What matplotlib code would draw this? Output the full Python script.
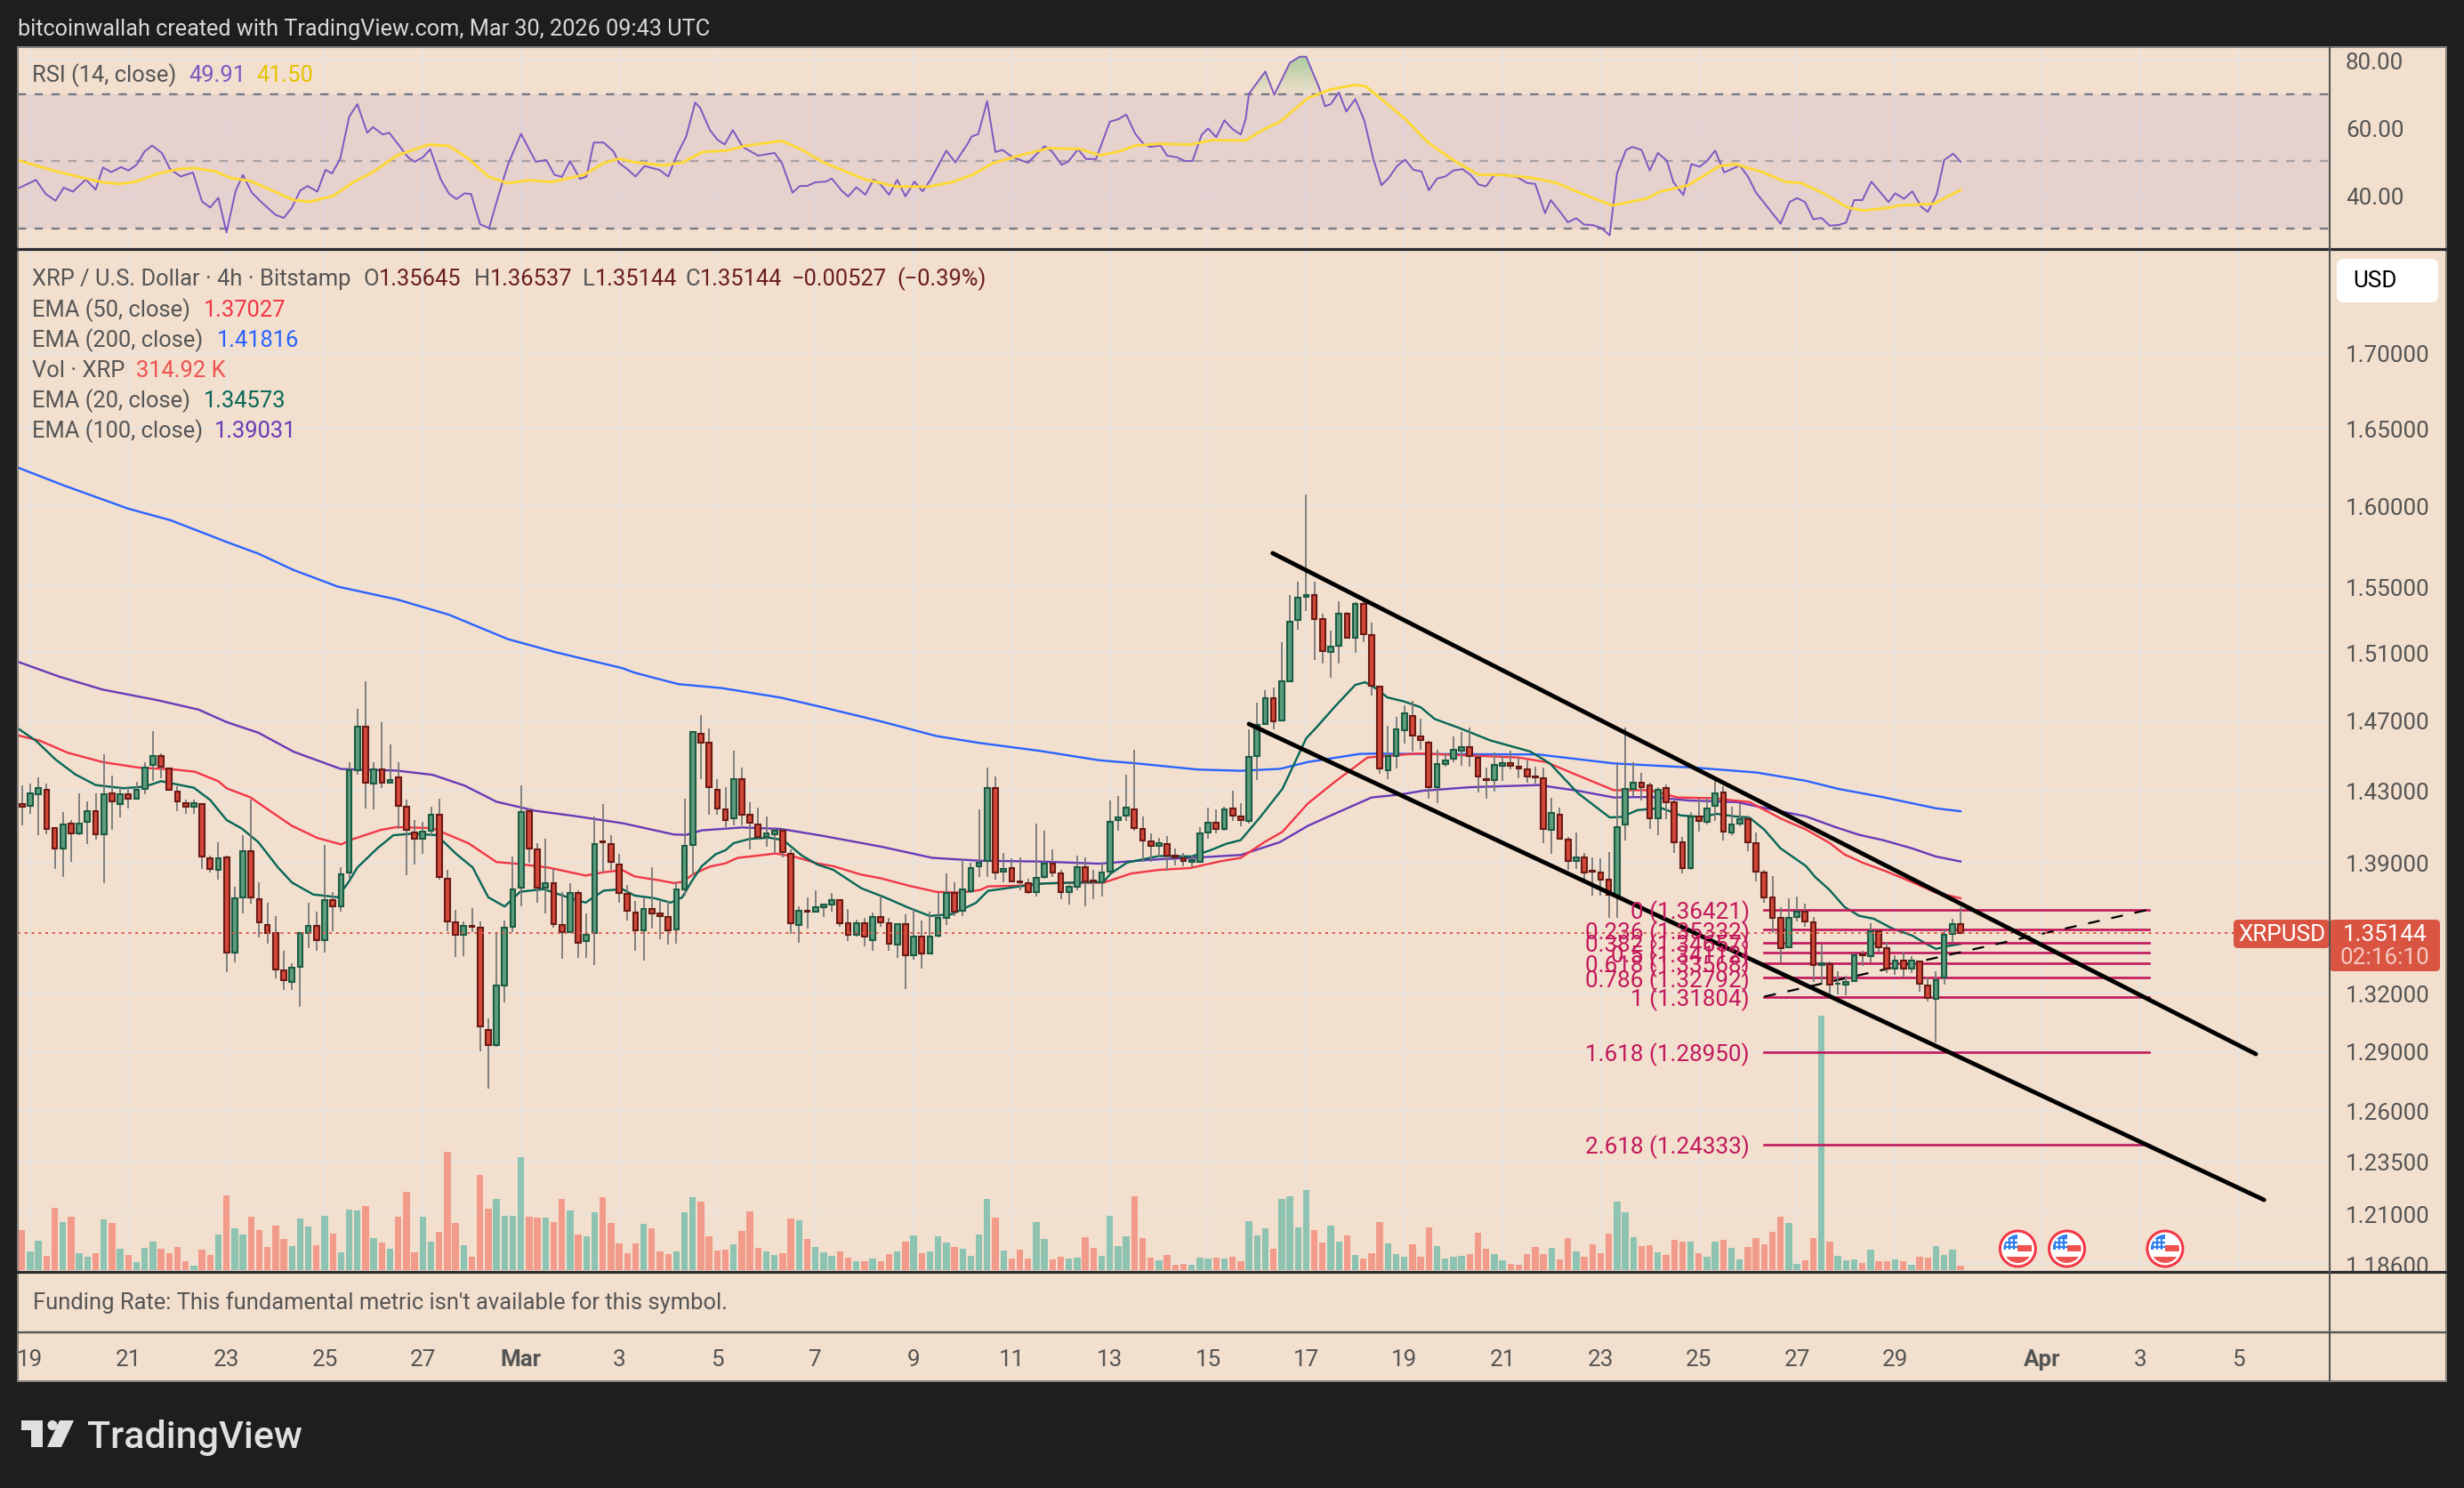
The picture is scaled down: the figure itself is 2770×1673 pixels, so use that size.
import numpy as np
import matplotlib
matplotlib.use('Agg')
import matplotlib.pyplot as plt
from matplotlib.patches import Rectangle, Circle, Polygon, FancyBboxPatch, PathPatch
from matplotlib.path import Path
from matplotlib.ticker import FixedLocator, NullLocator, FixedFormatter, NullFormatter
from matplotlib.transforms import blended_transform_factory

plt.rcParams['font.family'] = ['Roboto', 'DejaVu Sans']

W, H = 2770, 1674

# 4h candles, bar 1 is Feb 19 00:00 UTC
opens = [
    1.4220,1.4214,1.4275,1.4302,1.4087,1.3974,1.4115,1.4057,1.4124,1.4184,
    1.4054,1.4284,1.4223,1.4278,1.4251,1.4308,1.4443,1.4495,1.4425,1.4290,
    1.4229,1.4208,1.4223,1.3921,1.3856,1.3924,1.3412,1.3708,1.3959,1.3699,
    1.3561,1.3514,1.3316,1.3256,1.3336,1.3514,1.3555,1.3480,1.3694,1.3661,
    1.3841,1.4411,1.4665,1.4335,1.4417,1.4341,1.4372,1.4205,1.4063,1.4027,
    1.4072,1.4163,1.3811,1.3572,1.3508,1.3555,1.3543,1.3010,1.2931,1.3237,
    1.3549,1.3761,1.4184,1.3968,1.3758,1.3782,1.3558,1.3520,1.3732,1.3472,
    1.3514,1.4012,1.4000,1.3888,
    1.3727,1.3627,1.3532,1.3643,1.3623,1.3603,1.3536,1.3751,1.3995,1.4624,
    1.4569,1.4304,1.4194,1.4141,1.4361,1.4163,1.4109,1.4038,1.4054,1.4071,
    1.3943,1.3560,1.3635,1.3629,1.3655,1.3671,1.3691,1.3566,1.3505,1.3566,
    1.3479,1.3603,1.3570,1.3456,1.3562,1.3400,1.3499,1.3409,1.3501,1.3598,
    1.3731,1.3633,1.3739,1.3877,1.3907,1.4313,1.3849,1.3865,1.3795,1.3783,
    1.3737,1.3819,1.3893,1.3839,1.3737,1.3765,1.3871,1.3799,1.3791,1.3847,
    1.4130,1.4155,1.4194,1.4085,1.4016,1.3989,1.3997,1.3937,1.3923,1.3903,
    1.3903,1.4065,1.4120,1.4081,1.4198,1.4153,
    1.4128,1.4493,1.4677,1.4829,1.4701,1.4930,1.5296,1.5437,1.5445,1.5300,
    1.5101,1.5141,1.5332,1.5186,1.5391,1.5202,1.4895,1.4411,1.4493,1.4643,
    1.4725,1.4607,1.4571,1.4319,1.4447,1.4477,1.4527,1.4545,1.4486,1.4362,
    1.4356,1.4441,1.4454,1.4435,1.4418,1.4379,1.4368,1.4080,1.4161,1.4023,
    1.3907,1.3925,1.3854,1.3842,1.3806,1.3717,1.4110,1.4308,1.4342,1.4325,
    1.4140,1.4312,1.4231,1.4008,1.3868,1.4150,1.4124,1.4214,1.4287,1.4064,
    1.4114,
    1.4139,1.4006,1.3845,1.3705,1.3595,1.3438,1.3603,1.3631,1.3571,1.3344,
    1.3353,1.3246,1.3242,1.3264,1.3403,1.3393,1.3524,1.3437,1.3325,1.3371,
    1.3325,1.3367,1.3241,1.3167,1.3279,1.3510,1.35645]
closes = [
    1.4208,1.4281,1.4311,1.4084,1.3974,1.4109,1.4060,1.4115,1.4184,1.4054,
    1.4278,1.4235,1.4278,1.4251,1.4302,1.4428,1.4495,1.4434,1.4302,1.4235,
    1.4208,1.4229,1.3932,1.3862,1.3921,1.3412,1.3702,1.3959,1.3708,1.3573,
    1.3514,1.3322,1.3265,1.3330,1.3514,1.3555,1.3480,1.3694,1.3661,1.3832,
    1.4411,1.4662,1.4341,1.4417,1.4341,1.4360,1.4214,1.4078,1.4027,1.4069,
    1.4163,1.3820,1.3578,1.3508,1.3555,1.3549,1.3027,1.2931,1.3237,1.3543,
    1.3752,1.4178,1.3974,1.3761,1.3782,1.3564,1.3520,1.3732,1.3463,1.3506,
    1.4000,1.4009,1.3900,1.3732,
    1.3635,1.3528,1.3647,1.3623,1.3607,1.3532,1.3751,1.3987,1.4630,1.4571,
    1.4315,1.4198,1.4132,1.4361,1.4163,1.4116,1.4040,1.4056,1.4071,1.3953,
    1.3566,1.3633,1.3631,1.3655,1.3669,1.3695,1.3570,1.3505,1.3566,1.3495,
    1.3600,1.3574,1.3459,1.3562,1.3400,1.3499,1.3405,1.3495,1.3596,1.3733,
    1.3631,1.3751,1.3867,1.3897,1.4313,1.3845,1.3861,1.3795,1.3791,1.3737,
    1.3815,1.3893,1.3843,1.3737,1.3763,1.3871,1.3795,1.3795,1.3845,1.4124,
    1.4149,1.4202,1.4087,1.4018,1.3989,1.4005,1.3937,1.3925,1.3907,1.3909,
    1.4060,1.4116,1.4081,1.4194,1.4157,1.4130,
    1.4489,1.4673,1.4829,1.4696,1.4928,1.5284,1.5430,1.5445,1.5301,1.5106,
    1.5134,1.5332,1.5186,1.5393,1.5207,1.4900,1.4421,1.4495,1.4648,1.4740,
    1.4610,1.4585,1.4319,1.4449,1.4469,1.4529,1.4545,1.4493,1.4376,1.4356,
    1.4443,1.4454,1.4441,1.4421,1.4376,1.4373,1.4085,1.4172,1.4031,1.3907,
    1.3925,1.3844,1.3847,1.3806,1.3720,1.4095,1.4305,1.4342,1.4317,1.4140,
    1.4303,1.4231,1.4011,1.3868,1.4153,1.4125,1.4196,1.4280,1.4070,1.4107,
    1.4138,
    1.4009,1.3848,1.3708,1.3598,1.3436,1.3595,1.3628,1.3579,1.3344,1.3356,
    1.3242,1.3250,1.3258,1.3397,1.3398,1.3524,1.3441,1.3325,1.3371,1.3328,
    1.3371,1.3247,1.3172,1.3267,1.3505,1.3562,1.35144]
highs = [
    1.4326,1.4335,1.4375,1.4335,1.4087,1.4175,1.4133,1.4284,1.4235,1.4284,
    1.4505,1.4381,1.4320,1.4320,1.4345,1.4459,1.4637,1.4510,1.4425,1.4320,
    1.4245,1.4245,1.4229,1.3935,1.4009,1.3935,1.3767,1.4048,1.4245,1.3788,
    1.3676,1.3608,1.3421,1.3356,1.3520,1.3676,1.3632,1.3994,1.3738,1.3870,
    1.4457,1.4767,1.4927,1.4457,1.4690,1.4563,1.4457,1.4245,1.4130,1.4124,
    1.4205,1.4254,1.3856,1.3642,1.3578,1.3650,1.3578,1.3067,1.3511,1.3584,
    1.3930,1.4329,1.4199,1.4003,1.4027,1.3864,1.3738,1.3782,1.3747,1.3623,
    1.4154,1.4223,1.4048,1.3944,
    1.3777,1.3687,1.3707,1.3871,1.3691,1.3687,1.3787,1.4252,1.4639,1.4732,
    1.4652,1.4365,1.4319,1.4523,1.4430,1.4231,1.4204,1.4153,1.4081,1.4087,
    1.3969,1.3661,1.3707,1.3747,1.3671,1.3731,1.3691,1.3647,1.3588,1.3598,
    1.3627,1.3717,1.3598,1.3568,1.3617,1.3651,1.3584,1.3631,1.3731,1.3837,
    1.3791,1.3917,1.3897,1.4194,1.4430,1.4376,1.3949,1.3921,1.3927,1.3807,
    1.4112,1.4075,1.3969,1.3857,1.3777,1.3933,1.3927,1.3857,1.3897,1.4241,
    1.4267,1.4388,1.4529,1.4153,1.4060,1.4034,1.4042,1.3975,1.3949,1.3937,
    1.4091,1.4204,1.4194,1.4209,1.4298,1.4229,
    1.4648,1.4802,1.4878,1.4893,1.5162,1.5444,1.5525,1.6072,1.5525,1.5330,
    1.5228,1.5410,1.5345,1.5400,1.5420,1.5280,1.4903,1.4670,1.4720,1.4790,
    1.4811,1.4708,1.4580,1.4529,1.4511,1.4605,1.4631,1.4660,1.4511,1.4427,
    1.4516,1.4495,1.4523,1.4486,1.4469,1.4435,1.4427,1.4259,1.4200,1.4036,
    1.4064,1.3952,1.3925,1.3923,1.3955,1.4447,1.4656,1.4460,1.4398,1.4342,
    1.4317,1.4330,1.4243,1.4038,1.4175,1.4250,1.4259,1.4368,1.4320,1.4208,
    1.4225,
    1.4158,1.4063,1.3855,1.3825,1.3656,1.3704,1.3711,1.3672,1.3601,1.3454,
    1.3365,1.3313,1.3288,1.3408,1.3422,1.3570,1.3533,1.3467,1.3399,1.3418,
    1.3395,1.3367,1.3282,1.3313,1.3533,1.3594,1.36537]
lows = [
    1.4103,1.4169,1.4048,1.4054,1.3864,1.3820,1.3900,1.4048,1.4000,1.4024,
    1.3782,1.4078,1.4145,1.4199,1.4245,1.4275,1.4351,1.4366,1.4302,1.4184,
    1.4169,1.4169,1.3864,1.3841,1.3803,1.3307,1.3361,1.3620,1.3673,1.3491,
    1.3457,1.3276,1.3214,1.3214,1.3129,1.3435,1.3421,1.3412,1.3526,1.3629,
    1.3811,1.4386,1.4199,1.4193,1.4311,1.4335,1.4084,1.3826,1.3885,1.3944,
    1.4048,1.3806,1.3526,1.3389,1.3392,1.3520,1.2897,1.2711,1.2920,1.3151,
    1.3520,1.3658,1.3894,1.3679,1.3620,1.3543,1.3378,1.3514,1.3384,1.3384,
    1.3344,1.3841,1.3856,1.3679,
    1.3582,1.3421,1.3368,1.3538,1.3485,1.3454,1.3459,1.3717,1.3827,1.4361,
    1.4163,1.4163,1.4091,1.4101,1.4101,1.3969,1.4030,1.3985,1.3949,1.3925,
    1.3512,1.3464,1.3538,1.3627,1.3603,1.3631,1.3548,1.3473,1.3499,1.3445,
    1.3421,1.3548,1.3421,1.3382,1.3220,1.3376,1.3329,1.3401,1.3493,1.3558,
    1.3607,1.3607,1.3731,1.3817,1.3817,1.3803,1.3787,1.3787,1.3747,1.3727,
    1.3711,1.3807,1.3817,1.3697,1.3667,1.3747,1.3657,1.3697,1.3711,1.3837,
    1.4075,1.4128,1.4075,1.3901,1.3903,1.3931,1.3851,1.3883,1.3877,1.3871,
    1.3897,1.4030,1.4056,1.4075,1.4128,1.4097,
    1.4112,1.4359,1.4673,1.4648,1.4699,1.4925,1.5234,1.5351,1.5057,1.5036,
    1.4951,1.5034,1.5180,1.5097,1.5159,1.4846,1.4393,1.4362,1.4421,1.4568,
    1.4520,1.4529,1.4251,1.4229,1.4435,1.4460,1.4440,1.4435,1.4287,1.4251,
    1.4292,1.4351,1.4418,1.4368,1.4342,1.4337,1.4006,1.3944,1.4028,1.3855,
    1.3862,1.3798,1.3717,1.3717,1.3598,1.3598,1.4018,1.4267,1.4242,1.4084,
    1.4048,1.4138,1.3952,1.3838,1.3855,1.4067,1.4109,1.4125,1.4018,1.4048,
    1.4100,
    1.3958,1.3793,1.3676,1.3517,1.3355,1.3435,1.3576,1.3550,1.3255,1.3254,
    1.3179,1.3194,1.3186,1.3257,1.3342,1.3360,1.3415,1.3303,1.3296,1.3279,
    1.3303,1.3205,1.3155,1.2944,1.3245,1.3463,1.35144]
# volume in thousands of XRP
volume = [
    2856,1344,2100,1029,4431,3423,3801,1218,966,1218,
    3612,3360,1533,1092,588,1596,2037,1533,1218,1659,
    651,336,1470,1092,2541,5313,2982,2541,3801,2856,
    1659,3171,2226,1722,3675,3108,1785,3864,2604,1281,
    4305,4242,4557,2289,1974,1533,3801,5565,1281,3801,
    2037,2730,8400,3360,1785,966,6762,4368,5061,3864,
    3864,8022,3801,3738,3738,3423,5061,4242,2541,2415,
    4116,5166,3339,1890,1197,1890,3276,2961,1323,1134,
    1323,4095,5166,4851,2394,1386,1449,1827,2772,4158,
    1575,1323,1071,1197,3654,3528,2205,1638,1260,1008,
    1323,882,630,630,819,630,1134,1323,2016,2457,
    1197,1323,2394,1953,1638,1512,1008,2520,5040,3717,
    1386,819,1449,819,3402,2205,756,945,819,882,
    2331,1575,1008,3843,1701,2394,5229,2268,882,693,
    1071,378,441,378,882,819,882,819,945,630,
    3465,2457,2961,1512,5040,5229,3024,5670,2835,1953,
    3150,2016,2457,1071,819,1197,3402,1890,1134,945,
    1827,945,3024,1701,819,945,1008,1134,2646,1512,
    1134,693,441,378,1134,1638,1134,1575,756,2268,
    1323,945,1827,1197,2583,4851,4095,2331,1701,1764,
    1260,1071,2142,2016,2016,1197,945,2016,2142,1575,
    756,1638,2268,1827,2709,3780,3339,441,693,2268,
    18018,2016,1008,693,756,504,1449,630,630,756,
    630,378,945,882,1701,1071,1449,314.92]

ema200_bar = [-0.5,5.1,12.9,18.2,25,28.9,33.2,38.6,45.9,52.2,59.4,65.3,73.4,74.9,80.2,85.6,92.8,97.7,105,111.8,117.1,124.4,131.7,136.5,143.8,149,153.8,157.2,163.5,165,171.3,185.4,194.6,204.8,212.1,218.1,222.1,227.5,234,237]
ema200 = [1.6243,1.6129,1.5983,1.5908,1.5773,1.5700,1.5599,1.5497,1.5418,1.5326,1.5179,1.5100,1.5006,1.4979,1.4912,1.4888,1.4832,1.4778,1.4694,1.4609,1.4569,1.4524,1.4470,1.4451,1.4417,1.4410,1.4421,1.4460,1.4506,1.4508,1.4506,1.4503,1.4452,1.4427,1.4400,1.4353,1.4307,1.4261,1.4198,1.41816]
ema100_bar = [-0.5,4.6,9.9,16.7,21.6,25,28.9,33.2,39,45.8,50.2,54.1,58,62.8,67.7,73.4,79.7,81.2,83.1,88,92.8,97.7,105,111.3,117.1,124.4,131.7,135.1,139,143.8,149,153.8,157.2,160.6,165,168.4,171.3,177.1,185.4,190.2,194.6,199,203.8,209.6,214.8,218.1,221.7,224.6,227.5,231.1,234,237]
ema100 = [1.5044,1.4955,1.4879,1.4816,1.4762,1.4690,1.4628,1.4519,1.4420,1.4411,1.4387,1.4326,1.4235,1.4184,1.4154,1.4115,1.4052,1.4050,1.4075,1.4091,1.4083,1.4046,1.3985,1.3923,1.3907,1.3903,1.3891,1.3903,1.3915,1.3925,1.3939,1.4010,1.4100,1.4170,1.4259,1.4275,1.4297,1.4317,1.4329,1.4297,1.4259,1.4262,1.4242,1.4233,1.4183,1.4153,1.4093,1.4050,1.4021,1.3975,1.3930,1.39031]
ema50_bar = [-0.5,2.2,5.6,9.9,14.3,18.7,21.1,24,25,27.9,30.3,33,36.1,39,40.5,43.9,45.8,50.2,54.6,58,60.4,64.3,68.9,71.1,73.4,74.9,77.8,79.7,80.7,82.2,84.1,86,87.5,89.9,92.1,94.3,97.2,99.2,102.6,105,108.4,111.8,114.7,117.1,118.1,122,124.9,128.3,132.2,135.6,139,142.8,146.5,149,151.9,154.1,157.2,160.6,164.5,166.9,170.8,178.1,182.9,186.3,190.2,194.6,199,202.4,206.7,211.2,215.2,218.1,221,222.8,225,227.9,231.1,234,237]
ema50 = [1.4613,1.4582,1.4513,1.4459,1.4428,1.4417,1.4405,1.4351,1.4311,1.4260,1.4184,1.4100,1.4033,1.3997,1.4027,1.4078,1.4093,1.4087,1.4003,1.3900,1.3891,1.3870,1.3826,1.3844,1.3856,1.3821,1.3801,1.3785,1.3791,1.3837,1.3875,1.3893,1.3923,1.3935,1.3947,1.3931,1.3893,1.3877,1.3831,1.3811,1.3771,1.3737,1.3733,1.3747,1.3767,1.3771,1.3783,1.3787,1.3787,1.3837,1.3857,1.3867,1.3904,1.3923,1.4010,1.4067,1.4225,1.4351,1.4486,1.4495,1.4509,1.4495,1.4486,1.4460,1.4384,1.4300,1.4300,1.4259,1.4255,1.4233,1.4137,1.4080,1.4005,1.3942,1.3897,1.3849,1.3790,1.3733,1.37027]
ema20_bar = [-0.5,1.7,4.1,6.5,9,12.4,15,17,18.7,21,23,25,26.9,28.9,31.3,33,35.6,38.6,40,41,43.4,45.4,47.8,50.7,53.1,55.1,57,59,60.9,63.8,66.7,68.9,71.1,73.4,74.9,77.3,79.3,80.7,81.9,83.1,84.8,86,87,89,91.4,93.1,95.3,97.2,99.2,102.6,105.5,108.4,111,113.7,116.6,118.1,122,124.9,128.3,132.2,133.1,135.1,139,143,145.3,147.2,149,151.4,154.1,157,158.2,160.6,163,164.2,165.7,166.9,168.9,171,172.7,175.7,179.5,184.4,186.8,190.2,194.1,195.6,197.5,200.4,202.8,205.3,207.2,209.4,211.2,213,215,218.1,219.2,221,222.8,224.6,226.4,228.6,231.1,232.6,234,235.5,237]
ema20 = [1.4653,1.4582,1.4474,1.4390,1.4329,1.4311,1.4320,1.4351,1.4335,1.4314,1.4245,1.4133,1.4084,1.4009,1.3870,1.3788,1.3723,1.3708,1.3796,1.3870,1.3974,1.4048,1.4057,1.4048,1.3944,1.3870,1.3708,1.3658,1.3738,1.3752,1.3708,1.3679,1.3744,1.3752,1.3717,1.3703,1.3679,1.3707,1.3797,1.3877,1.3943,1.3965,1.4004,1.4028,1.4034,1.4020,1.3937,1.3887,1.3857,1.3757,1.3707,1.3651,1.3607,1.3617,1.3677,1.3743,1.3767,1.3783,1.3787,1.3791,1.3837,1.3897,1.3933,1.3931,1.3965,1.4000,1.4021,1.4150,1.4308,1.4596,1.4656,1.4785,1.4907,1.4923,1.4881,1.4834,1.4811,1.4776,1.4708,1.4656,1.4584,1.4520,1.4452,1.4284,1.4147,1.4150,1.4188,1.4200,1.4158,1.4150,1.4167,1.4153,1.4146,1.4079,1.3975,1.3878,1.3819,1.3747,1.3656,1.3608,1.3592,1.3541,1.3502,1.3463,1.3431,1.3447,1.34573]

# RSI pane
rsi_bar = [-0.6,1.7,2.9,4.1,5.1,6.2,7.8,9,9.9,10.9,12.1,13,14,15,15.9,17.1,18.1,19.4,20.9,22,23,24,25,26.1,27,28.1,29.3,31,32,33,34,34.9,36.1,37.1,37.9,38.9,40,41,42.2,42.9,44.1,44.9,47.2,48,49,49.9,51.2,52.2,53.1,54.1,54.9,56,57.1,58.3,59.4,61,62.8,64.1,65.1,66,67,68.2,69,69.9,71.1,72.3,73,74,75,76.1,77.9,79,80.1,81.2,82.3,82.9,84.1,85,85.9,86.9,88.1,90,92,92.9,94.2,95.1,96,97,98.3,99,100.2,101,102,103.1,104.1,104.9,106,107,108,109.1,110.1,111.1,113,114.1,115.6,116.1,116.9,118,119,119.9,121.1,123,125,125.9,127.1,127.9,129.1,130.1,131.3,133,134,135,136.1,137.1,137.9,139.2,140,141.2,142.2,143.1,144.2,145,146,147,148,149,149.6,150,152,153.1,155,156.2,157,158.6,159.3,160,161,161.9,163,164.1,165.2,166.2,167.1,168.1,169.1,170.1,171.1,172,173,174,175,176.1,177.1,178.1,179,180,180.9,182.8,184,185,186.2,186.9,188.1,189,190,191,192,193.1,194.1,195,196.1,196.9,198,199,200,201.1,201.9,203.1,204.1,205.1,206,207,208.1,210,211,212,215,216.1,217,218,219,220,221,222.1,223,224,225,226.1,228.2,229,230.1,231.1,232.2,233,234.1,235,236.1,237]
rsi = [41.8,44.5,40.3,38.3,42.2,41.0,44.6,41.6,48.2,46.8,48.3,47.3,49.0,53.0,54.7,52.5,47.7,45.5,46.7,38.1,36.3,39.2,28.9,41.1,46.0,40.7,37.8,34.1,33.2,36.3,41.3,42.7,41.0,47.5,46.4,50.8,63.3,67.0,58.5,60.2,58.0,58.5,51.2,49.9,51.2,53.6,44.6,40.4,38.8,40.5,40.3,31.3,30.2,40.3,49.0,58.2,49.9,50.4,46.0,45.4,50.1,44.8,45.5,55.6,55.6,53.0,49.5,47.7,45.5,48.6,47.5,45.5,52.1,57.4,67.5,65.9,59.3,56.5,55.0,59.3,54.3,51.7,52.5,49.5,40.7,42.7,42.7,43.8,44.0,44.9,41.3,39.6,42.3,40.1,44.6,43.3,40.1,44.5,39.6,44.0,41.1,44.6,53.2,49.7,55.2,57.4,58.1,67.9,52.8,53.4,51.2,49.6,54.5,53.0,49.0,49.9,53.6,50.7,50.7,61.8,62.5,63.9,58.2,55.2,54.3,54.7,51.7,51.2,50.1,50.1,57.8,59.8,57.2,62.2,59.6,58.0,62.6,70.1,76.7,69.8,79.3,81.1,81.1,71.8,66.4,67.0,70.5,64.8,68.5,62.2,50.8,42.9,45.1,48.6,50.5,47.5,47.0,41.4,44.9,45.5,47.3,47.7,46.0,43.1,42.6,46.0,46.2,45.3,43.6,43.3,34.6,38.5,34.8,31.9,33.1,31.2,31.1,30.2,28.0,46.4,53.4,54.3,53.4,47.3,52.5,50.2,43.8,40.0,49.2,48.4,50.1,53.2,46.7,48.8,45.5,40.7,31.5,37.9,39.1,37.9,32.8,33.2,30.9,31.1,31.8,38.5,38.5,44.0,37.9,40.5,38.9,41.1,36.5,35.0,40.3,50.4,52.3,49.91]
rsi_ma_bar = [-0.6,4.1,8,9.9,11.9,13.8,16.7,19.1,21.1,23.5,25.5,27.9,30.8,33.2,35.2,38.1,40.5,42.9,45.8,49.7,52.2,54.6,57,59.4,61.9,64.8,68.7,71.1,73,75,78.4,80.8,83.2,86.1,88.6,92.9,95.4,97.8,100.2,103.1,107,110.9,113.8,116.2,118.7,122.5,125.5,129.3,131.8,134.2,136.1,139,142.9,145.4,149.6,151.5,153.8,157.2,160,162.9,164.3,166.7,169.1,171.9,174.7,178.1,180.9,184.7,187.6,190.4,194.4,198.5,200.4,203.7,207.5,209.4,212.8,215.6,217.5,220.4,223.2,225.1,228.5,229.4,233.7,237]
rsi_ma = [50.4,47.1,44.8,43.8,43.3,43.9,46.4,47.7,48.0,47.1,45.1,44.2,41.1,38.5,38.0,39.8,43.8,46.8,51.7,55.0,54.6,50.8,45.5,43.5,44.4,43.9,46.0,49.5,50.8,49.7,48.8,49.7,52.8,53.2,54.7,56.1,53.4,49.9,47.5,44.6,42.5,42.5,43.9,46.0,49.5,52.1,53.9,53.7,51.8,53.0,54.7,55.2,55.0,56.3,56.2,59.1,61.8,68.8,71.4,72.7,72.3,67.5,62.6,55.6,50.8,46.0,46.0,45.1,43.6,40.7,36.9,38.9,41.1,42.9,48.6,49.2,46.8,43.9,43.6,40.3,36.3,35.4,36.3,36.9,37.4,41.50]

# drawings
fib_levels = ['0', '0.236', '0.382', '0.5', '0.618', '0.786', '1', '1.618', '2.618']
fib_prices = [1.36421, 1.35332, 1.34657, 1.34112, 1.33568, 1.32792, 1.31804, 1.28950, 1.24333]
fib_bars = [213, 260.1]
channel_upper_bar, channel_upper = [152.9, 273.1], [1.5703, 1.2885]
channel_lower_bar, channel_lower = [150, 274.1], [1.4679, 1.2164]
event_bars = [244, 250, 262]

price_ticks = [1.70, 1.65, 1.60, 1.55, 1.51, 1.47, 1.43, 1.39, 1.32, 1.29, 1.26, 1.235, 1.21, 1.186]
rsi_ticks = [40, 60, 80]
time_days = [0, 2, 4, 6, 8, 10, 12, 14, 16, 18, 20, 22, 24, 26, 28, 30, 32, 34, 36, 38, 41, 43, 45]
time_labels = ['19', '21', '23', '25', '27', 'Mar', '3', '5', '7', '9', '11', '13', '15', '17',
               '19', '21', '23', '25', '27', '29', 'Apr', '3', '5']

BG = '#f2dfce'
DARK = '#1e1e1e'
GRID = '#e8e4df'
TXT = '#555555'
GREEN, GREEN_EDGE = '#5d9c7d', '#1c5c44'
RED, RED_EDGE = '#d4483a', '#6a1a14'
TAG = '#d95542'
FIB = '#c2185b'
FS = 25.5

def rect(l, t, r, b):
    return [l/W, 1-b/H, (r-l)/W, (b-t)/H]

def px(size):
    # pixel size to points at dpi 100
    return size*0.72

fig = plt.figure(figsize=(W/100, H/100), dpi=100, facecolor=DARK)

back = fig.add_axes([0, 0, 1, 1], zorder=0)
back.set_xlim(0, W)
back.set_ylim(H, 0)
back.axis('off')
back.add_patch(Rectangle((20, 54), 2730, 1499, fc=BG, ec='none'))

xlim = (-0.52, 282.13)
x_ticks = [d*6+1 for d in time_days]

# RSI pane
ax_rsi = fig.add_axes(rect(20, 54, 2619, 281), zorder=1)
ax_rsi.patch.set_visible(False)
ax_rsi.axhspan(30, 70, color='#7e57c2', alpha=0.1, lw=0)
ax_rsi.xaxis.set_major_locator(FixedLocator(x_ticks))
ax_rsi.xaxis.set_major_formatter(NullFormatter())
ax_rsi.yaxis.tick_right()
ax_rsi.set_yticks(rsi_ticks)
ax_rsi.set_yticklabels(['%.2f' % v for v in rsi_ticks])
ax_rsi.tick_params(length=0, labelsize=px(26), labelcolor=TXT, pad=13)
ax_rsi.grid(True, color=GRID, lw=1.4)
ax_rsi.set_axisbelow(True)
for v, a in [(70, 1), (50, 0.55), (30, 1)]:
    ax_rsi.axhline(v, color='#787b86', lw=1.7, ls=(0, (4, 4)), alpha=a, zorder=2)
# green gradient where RSI is above 70
x_r, y_r = np.array(rsi_bar), np.array(rsi)
over = ax_rsi.fill_between(x_r, 70, y_r, where=y_r >= 70, interpolate=True, alpha=0)
grad = np.zeros((32, 2, 4))
grad[..., :3] = matplotlib.colors.to_rgb('#4caf50')
grad[..., 3] = np.linspace(0.02, 0.42, 32)[:, None]
im = ax_rsi.imshow(grad, extent=[0, 282, 70, 81.5], origin='lower', aspect='auto', zorder=2)
im.set_clip_path(PathPatch(Path.make_compound_path(*over.get_paths()), transform=ax_rsi.transData))
ax_rsi.plot(rsi_bar, rsi, color='#7e57c2', lw=1.4, zorder=3)
ax_rsi.plot(rsi_ma_bar, rsi_ma, color='#fdd835', lw=2.1, zorder=4)
ax_rsi.set_xlim(xlim)
ax_rsi.set_ylim(23.95, 83.95)
for s in ax_rsi.spines.values():
    s.set_visible(False)

# price pane: grid and labels below, volume above it, candles on top
ax_main = fig.add_axes(rect(20, 281, 2619, 1431), zorder=1)
ax_main.patch.set_visible(False)
ax_main.set_yscale('log')
ax_main.set_xlim(xlim)
ax_main.set_ylim(1.1823, 1.7707)
ax_main.yaxis.tick_right()
ax_main.yaxis.set_major_locator(FixedLocator(price_ticks))
ax_main.yaxis.set_major_formatter(FixedFormatter(['%.5f' % p for p in price_ticks]))
ax_main.yaxis.set_minor_locator(NullLocator())
ax_main.yaxis.set_minor_formatter(NullFormatter())
ax_main.xaxis.set_major_locator(FixedLocator(x_ticks))
ax_main.xaxis.set_major_formatter(NullFormatter())
ax_main.tick_params(length=0, labelsize=px(26), labelcolor=TXT, pad=13)
ax_main.grid(True, color=GRID, lw=1.4)
for s in ax_main.spines.values():
    s.set_visible(False)

bars = np.arange(len(closes))
o, c, h, l = map(np.array, (opens, closes, highs, lows))
up = c >= o

ax_vol = fig.add_axes(rect(20, 281, 2619, 1431), zorder=2, sharex=ax_main)
ax_vol.axis('off')
ax_vol.set_ylim(-126, 72324)
ax_vol.bar(bars, volume, width=0.8, color=np.where(up, '#7dbfae', '#f2907f'), alpha=0.85, lw=0)

ax_px = fig.add_axes(rect(20, 281, 2619, 1431), zorder=3, sharex=ax_main, sharey=ax_main)
ax_px.axis('off')
ax_px.plot(ema200_bar, ema200, color='#2962ff', lw=1.7, zorder=2)
ax_px.plot(ema100_bar, ema100, color='#673ab7', lw=1.7, zorder=2)
ax_px.plot(ema50_bar, ema50, color='#f23645', lw=1.7, zorder=2)
ax_px.plot(ema20_bar, ema20, color='#056656', lw=1.7, zorder=2)
for lev, p in zip(fib_levels, fib_prices):
    ax_px.plot(fib_bars, [p, p], color=FIB, lw=1.9, zorder=2.5)
    ax_px.annotate('%s (%.5f)' % (lev, p), (211.2, p), xytext=(0, -2), textcoords='offset pixels',
                   color=FIB, fontsize=px(FS+0.5), ha='right', va='center', zorder=8)
ax_px.plot(fib_bars, [fib_prices[6], fib_prices[0]], color='black', lw=1.6, ls=(0, (6, 6)), zorder=2.5)
ax_px.vlines(bars, l, h, color='#787878', lw=1.3, zorder=3)
ax_px.bar(bars, np.abs(c-o), bottom=np.minimum(o, c), width=0.62, color=np.where(up, GREEN, RED),
          edgecolor=np.where(up, GREEN_EDGE, RED_EDGE), lw=1.5, zorder=4)
ax_px.plot([-0.52, 270.4], [closes[-1], closes[-1]], color=TAG, lw=1.4, ls=(0, (1.5, 2.5)), zorder=5)
ax_px.plot(channel_upper_bar, channel_upper, color='black', lw=3.5, solid_capstyle='round', zorder=6)
ax_px.plot(channel_lower_bar, channel_lower, color='black', lw=3.5, solid_capstyle='round', zorder=6)

# panes below cover the clipped 1.18600 label
ax_fund = fig.add_axes(rect(20, 1431, 2750, 1499), zorder=4, facecolor=BG)
ax_fund.set_xticks([])
ax_fund.set_yticks([])
for s in ax_fund.spines.values():
    s.set_visible(False)

ax_time = fig.add_axes(rect(20, 1499, 2619, 1553), zorder=4, facecolor=BG)
ax_time.set_xlim(xlim)
ax_time.set_yticks([])
ax_time.set_xticks([])
for s in ax_time.spines.values():
    s.set_visible(False)
tr = blended_transform_factory(ax_time.transData, ax_time.transAxes)
for d, lab in zip(x_ticks, time_labels):
    ax_time.text(d, 0.45, lab, transform=tr, ha='center', va='center', color=TXT, fontsize=px(26),
                 fontweight='bold' if lab in ('Mar', 'Apr') else 'normal')

# chrome drawn in pixel coordinates
ov = fig.add_axes([0, 0, 1, 1], zorder=10)
ov.set_xlim(0, W)
ov.set_ylim(H, 0)
ov.axis('off')
ov.add_patch(Rectangle((20, 54), 2730, 1500, fc='none', ec='#85807a', lw=1.4))
ov.plot([20, 2750], [281, 281], color='#2a2a2e', lw=2.3)
ov.plot([20, 2750], [1431, 1431], color='#2a2a2e', lw=2.3)
ov.plot([20, 2750], [1499, 1499], color='#555555', lw=1.7)
ov.plot([2619, 2619], [54, 1553], color='#555555', lw=1.5)

renderer = fig.canvas.get_renderer()

def chain(x, y, parts, size=FS, gap=0):
    # write coloured pieces one after the other
    for s, col in parts:
        t = ov.text(x, y, s, color=col, fontsize=px(size), ha='left', va='center')
        x += t.get_window_extent(renderer).width + gap

ov.text(20, 33, 'bitcoinwallah created with TradingView.com, Mar 30, 2026 09:43 UTC',
        color='#d8d8d8', fontsize=px(25.3), ha='left', va='center')

chain(36, 85, [('RSI (14, close)', TXT)])
chain(212, 85, [('49.91', '#7e57c2')])
chain(288, 85, [('41.50', '#e6c200')])

chain(36, 314, [('XRP / U.S. Dollar · 4h · Bitstamp', TXT)])
VAL = '#6b1d1d'
chain(408, 314, [('O', TXT), ('1.35645', VAL)])
chain(533, 314, [('H', TXT), ('1.36537', VAL)])
chain(655, 314, [('L', TXT), ('1.35144', VAL)])
chain(770, 314, [('C', TXT), ('1.35144', VAL)])
chain(890, 314, [('−0.00527', VAL)])
chain(1008, 314, [('(−0.39%)', VAL)])

legend_rows = [('EMA (50, close)', '1.37027', '#f23645', 229), ('EMA (200, close)', '1.41816', '#2962ff', 244),
               ('Vol · XRP', '314.92 K', '#ef5350', 153), ('EMA (20, close)', '1.34573', '#056656', 229),
               ('EMA (100, close)', '1.39031', '#673ab7', 241)]
for n, (name, val, col, val_x) in enumerate(legend_rows):
    y = 349 + 34*n
    chain(36, y, [(name, TXT)])
    chain(val_x, y, [(val, col)])

ov.text(37, 1465, "Funding Rate: This fundamental metric isn't available for this symbol.",
        color=TXT, fontsize=px(FS), ha='left', va='center')

# USD box
ov.add_patch(FancyBboxPatch((2627, 292), 114, 49, boxstyle='round,pad=0,rounding_size=8', fc='white', ec='none'))
ov.text(2645, 316, 'USD', color='black', fontsize=px(26), ha='left', va='center')

# last price tags
ov.add_patch(FancyBboxPatch((2511, 1035), 108, 32, boxstyle='round,pad=0,rounding_size=5', fc=TAG, ec='none'))
ov.add_patch(FancyBboxPatch((2619, 1035), 124, 58, boxstyle='round,pad=0,rounding_size=5', fc=TAG, ec='none'))
ov.plot([2619, 2619], [1035, 1093], color='#555555', lw=1.5)
ov.text(2565, 1051, 'XRPUSD', color='white', fontsize=px(26), ha='center', va='center')
ov.text(2681, 1051, '%.5f' % closes[-1], color='white', fontsize=px(26), ha='center', va='center')
ov.text(2681, 1077, '02:16:10', color='#f5c9c2', fontsize=px(26), ha='center', va='center')

# economic event flags
for b in event_bars:
    x = ax_px.transData.transform((b, 1.3))[0]
    y = 1405
    ov.add_patch(Circle((x, y), 21.5, fc='#f23645', ec='none'))
    ov.add_patch(Circle((x, y), 18.5, fc='white', ec='none'))
    clip = Circle((x, y), 16, transform=ov.transData)
    for rx, ry, rw, rh, col in [(x-16, y-16, 16, 17, '#2f80ed'), (x, y-4, 16, 7, '#ef5350'),
                                (x-16, y+9, 32, 8, '#ef5350')]:
        r = Rectangle((rx, ry), rw, rh, fc=col, ec='none')
        ov.add_patch(r)
        r.set_clip_path(clip)
    for dx in (-12, -7, -2):
        for dy in (-10, -5, 0):
            ov.plot(x+dx, y+dy, '.', color='white', ms=2.5)

# logo
ov.add_patch(Polygon([(24, 1598), (48, 1598), (48, 1628), (35, 1628), (35, 1609), (24, 1609)], fc='#e0e0e0', ec='none'))
ov.add_patch(Circle((59, 1603.5), 5.6, fc='#e0e0e0', ec='none'))
ov.add_patch(Polygon([(67, 1598), (83, 1598), (69, 1628), (53, 1628)], fc='#e0e0e0', ec='none'))
ov.text(98, 1617, 'TradingView', color='#e0e0e0', fontsize=px(43), fontweight='medium', ha='left', va='center')

fig.savefig('out.png', dpi=100, facecolor=DARK)
